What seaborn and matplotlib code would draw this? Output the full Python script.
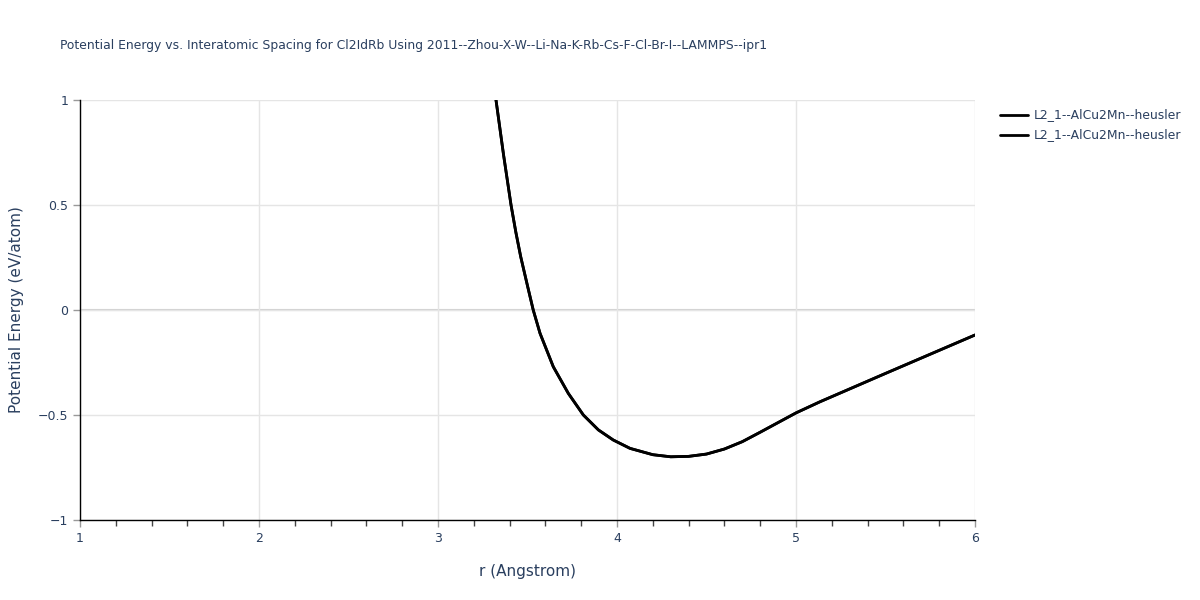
import matplotlib
matplotlib.use("Agg")
import matplotlib.pyplot as plt
import seaborn as sns
import pandas as pd
from matplotlib.ticker import MultipleLocator

r_vals = [3.324, 3.366, 3.408, 3.435, 3.462, 3.50, 3.532, 3.570, 3.644, 3.728, 3.812, 3.896, 3.979, 4.073,
          4.2, 4.3, 4.4, 4.5, 4.6, 4.7, 4.8, 4.9, 5.0, 5.134, 5.5, 6.0]
energy = [1.0, 0.74, 0.5, 0.37, 0.254, 0.115, 0.0, -0.111, -0.27, -0.397, -0.5, -0.571, -0.619, -0.659,
          -0.689, -0.699, -0.697, -0.686, -0.662, -0.627, -0.582, -0.536, -0.490, -0.437, -0.302, -0.119]
series_names = ["L2_1--AlCu2Mn--heusler", "L2_1--AlCu2Mn--heusler"]
title = "Potential Energy vs. Interatomic Spacing for Cl2IdRb Using 2011--Zhou-X-W--Li-Na-K-Rb-Cs-F-Cl-Br-I--LAMMPS--ipr1"

sns.set_theme(style="white")
plt.rcParams['font.family'] = ['DejaVu Sans']
txt = "#2a3f5f"

fig = plt.figure(figsize=(12, 6), dpi=100)
ax = fig.add_axes([80/1200, 1-520/600, (975-80)/1200, (520-100)/600])

frames = []
for i, name in enumerate(series_names):
    frames.append(pd.DataFrame({"r": r_vals, "E": energy, "series": [f"s{i}"]*len(r_vals)}))
df = pd.concat(frames, ignore_index=True)
sns.lineplot(data=df, x="r", y="E", hue="series", palette=["black", "black"],
             linewidth=2, ax=ax, legend=False, sort=False, estimator=None)

ax.set_xlim(1, 6)
ax.set_ylim(-1, 1)
ax.set_xticks([1, 2, 3, 4, 5, 6])
ax.xaxis.set_minor_locator(MultipleLocator(0.2))
ax.set_yticks([-1, -0.5, 0, 0.5, 1])
ax.set_yticklabels(["\u22121", "\u22120.5", "0", "0.5", "1"])
ax.grid(True, which="major", color="#e5e5e5", linewidth=1)
ax.axhline(0, color="#d0d0d0", linewidth=1.5, zorder=0)
for s in ["top", "right"]:
    ax.spines[s].set_visible(False)
for s in ["left", "bottom"]:
    ax.spines[s].set_color("black")
    ax.spines[s].set_linewidth(1)
ax.tick_params(axis="both", which="major", direction="out", length=5, width=1,
               color="#999999", labelcolor=txt, labelsize=9, bottom=True, left=True)
ax.tick_params(axis="x", which="minor", direction="out", length=4, width=1,
               color="#444444", bottom=True)
ax.set_xlabel("r (Angstrom)", color=txt, fontsize=11, labelpad=14)
ax.set_ylabel("Potential Energy (eV/atom)", color=txt, fontsize=11, labelpad=10)

fig.text(60/1200, 1-45/600, title, color=txt, fontsize=8.9, va="center", ha="left")

for i, name in enumerate(series_names):
    yy = 1 - (115 + 20*i)/600
    fig.lines.append(plt.Line2D([1000/1200, 1028/1200], [yy, yy], color="black",
                                linewidth=2, transform=fig.transFigure))
    fig.text(1034/1200, yy, name, color=txt, fontsize=8.9, va="center", ha="left")

fig.savefig("out.png", dpi=100, facecolor="white")
